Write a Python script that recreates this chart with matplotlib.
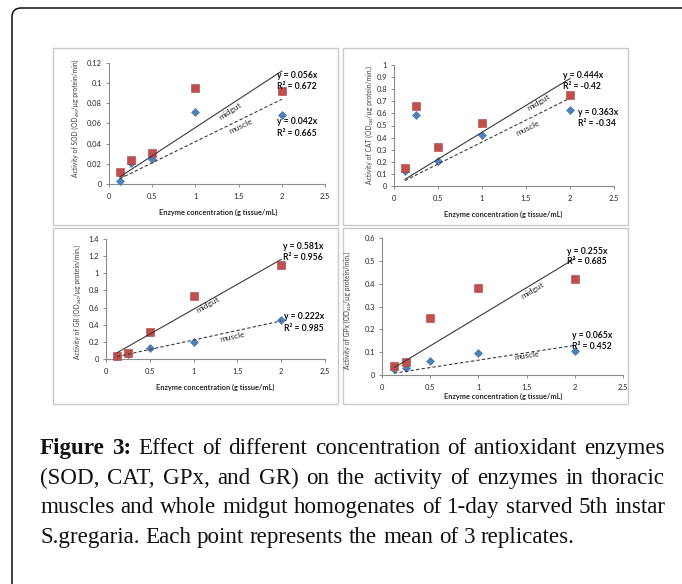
#!/usr/bin/env python3
# -*- coding: utf-8 -*-
"""Four Excel-style enzyme activity panels with linear trend lines and a caption."""

import matplotlib

matplotlib.use("Agg")
import matplotlib.pyplot as plt
import matplotlib.transforms as mtransforms
import numpy as np
from matplotlib.patches import FancyBboxPatch, Rectangle

W, H = 682, 584
DPI = 100

plt.rcParams.update(
    {
        "font.family": ["Lato", "DejaVu Sans"],
        "axes.linewidth": 0.8,
    }
)

RED = "#C0504D"
BLUE = "#4F81BD"
AXIS_GRAY = "#8C8C8C"
BOX_GRAY = "#C9C9C9"
LINE = "#3A3A3A"
TEXT = "#262626"

# enzyme concentration (g tissue/mL)
conc = [0.125, 0.25, 0.5, 1.0, 2.0]

sod_midgut = [0.012, 0.024, 0.031, 0.095, 0.092]
sod_muscle = [0.003, 0.021, 0.025, 0.071, 0.068]
cat_midgut = [0.15, 0.66, 0.32, 0.52, 0.755]
cat_muscle = [0.12, 0.59, 0.205, 0.42, 0.625]
gr_midgut = [0.03, 0.07, 0.31, 0.735, 1.10]
gr_muscle = [0.04, 0.06, 0.13, 0.195, 0.45]
gpx_midgut = [0.04, 0.055, 0.25, 0.383, 0.42]
gpx_muscle = [0.025, 0.03, 0.06, 0.095, 0.105]

# trend line slopes (y = a x) and R^2 labels
slopes_midgut = {"SOD": 0.056, "CAT": 0.444, "GR": 0.581, "GPx": 0.255}
slopes_muscle = {"SOD": 0.042, "CAT": 0.363, "GR": 0.222, "GPx": 0.065}
r2_midgut = {"SOD": "0.672", "CAT": "-0.42", "GR": "0.956", "GPx": "0.685"}
r2_muscle = {"SOD": "0.665", "CAT": "-0.34", "GR": "0.985", "GPx": "0.452"}

ylabels = {
    "SOD": "Activity of SOD (OD₄₉₀/µg protein/min)",
    "CAT": "Activity of CAT (OD₂₄₀/µg protein/min.)",
    "GR": "Activity of GR (OD₃₄₀/µg protein/min.)",
    "GPx": "Activity of GPx (OD₄₂₀/µg protein/min.)",
}
yticks = {
    "SOD": [0, 0.02, 0.04, 0.06, 0.08, 0.1, 0.12],
    "CAT": [0, 0.1, 0.2, 0.3, 0.4, 0.5, 0.6, 0.7, 0.8, 0.9, 1],
    "GR": [0, 0.2, 0.4, 0.6, 0.8, 1, 1.2, 1.4],
    "GPx": [0, 0.1, 0.2, 0.3, 0.4, 0.5, 0.6],
}
xticks = [0, 0.5, 1, 1.5, 2, 2.5]
XLABEL = "Enzyme concentration (g tissue/mL)"

CAPTION = [
    [("Figure", True), ("3:", True)]
    + [(w, False) for w in "Effect of different concentration of antioxidant enzymes".split()],
    [(w, False) for w in "(SOD, CAT, GPx, and GR) on the activity of enzymes in thoracic".split()],
    [(w, False) for w in "muscles and whole midgut homogenates of 1-day starved 5th instar".split()],
    [(w, False) for w in "S.gregaria. Each point represents the mean of 3 replicates.".split()],
]


def px_rect(left, top, right, bottom):
    return [left / W, 1 - bottom / H, (right - left) / W, (bottom - top) / H]


# panel layout in pixels: box, axes, label positions
PANELS = {
    "SOD": dict(box=(53, 48, 338, 225), ax=(109, 63, 325, 184), ylab=(75, 118), xlab=(218, 212),
                mid_txt=(1.40, 0.072), mus_txt=(1.52, 0.057),
                mid_eq=(1.95, 0.108), mus_eq=(1.94, 0.0615), eq_gap=0.0115),
    "CAT": dict(box=(343, 48, 628, 225), ax=(394, 65, 614, 186), ylab=(369, 125), xlab=(503, 214),
                mid_txt=(1.64, 0.69), mus_txt=(1.52, 0.475),
                mid_eq=(1.92, 0.917), mus_eq=(2.09, 0.61), eq_gap=0.096),
    "GR": dict(box=(53, 228, 338, 404), ax=(106, 239, 325, 359), ylab=(77, 302), xlab=(215, 387),
               mid_txt=(1.16, 0.63), mus_txt=(1.44, 0.26),
               mid_eq=(2.02, 1.318), mus_eq=(2.03, 0.49), eq_gap=0.13),
    "GPx": dict(box=(343, 228, 628, 404), ax=(382, 238, 623, 375), ylab=(347, 310), xlab=(503, 396),
                mid_txt=(1.56, 0.372), mus_txt=(1.50, 0.083),
                mid_eq=(1.92, 0.543), mus_eq=(1.97, 0.171), eq_gap=0.045),
}

DATA = {
    "SOD": (sod_midgut, sod_muscle),
    "CAT": (cat_midgut, cat_muscle),
    "GR": (gr_midgut, gr_muscle),
    "GPx": (gpx_midgut, gpx_muscle),
}


def fmt_tick(v):
    return f"{v:g}"


def draw_panel(fig, key):
    cfg = PANELS[key]
    midgut, muscle = DATA[key]
    bx = px_rect(*cfg["box"])
    fig.patches.append(
        Rectangle((bx[0], bx[1]), bx[2], bx[3], transform=fig.transFigure,
                  facecolor="none", edgecolor=BOX_GRAY, lw=1.0, zorder=-1)
    )
    ax = fig.add_axes(px_rect(*cfg["ax"]))
    ax.set_facecolor("none")
    for side in ("top", "right"):
        ax.spines[side].set_visible(False)
    for side in ("left", "bottom"):
        ax.spines[side].set_color(AXIS_GRAY)
        ax.spines[side].set_linewidth(0.8)

    ax.plot(conc, muscle, ls="none", marker="D", ms=4.3, color=BLUE,
            mec="#3F6FA8", mew=0.4, clip_on=False, zorder=3)
    ax.plot(conc, midgut, ls="none", marker="s", ms=5.8, color=RED,
            mec="#A9403D", mew=0.4, clip_on=False, zorder=4)

    xs = np.array([min(conc), max(conc)])
    ax.plot(xs, slopes_midgut[key] * xs, color=LINE, lw=0.8, zorder=5)
    ax.plot(xs, slopes_muscle[key] * xs, color=LINE, lw=0.8, ls=(0, (3, 2)), zorder=5)

    for slope, (tx, ty), name in (
        (slopes_midgut[key], cfg["mid_txt"], "midgut"),
        (slopes_muscle[key], cfg["mus_txt"], "muscle"),
    ):
        ang = np.degrees(np.arctan(slope))
        ax.text(tx, ty, name, fontsize=6.0, color=TEXT, rotation=ang,
                rotation_mode="anchor", transform_rotates_text=True,
                ha="center", va="center", zorder=6)

    gap = cfg["eq_gap"]
    for slope, r2, (ex, ey) in (
        (slopes_midgut[key], r2_midgut[key], cfg["mid_eq"]),
        (slopes_muscle[key], r2_muscle[key], cfg["mus_eq"]),
    ):
        ax.text(ex, ey, f"y = {slope:g}x", fontsize=6.2, fontweight="bold",
                color="#111111", ha="left", va="center", zorder=7)
        ax.text(ex, ey - gap, f"R² = {r2}", fontsize=6.2, fontweight="bold",
                color="#111111", ha="left", va="center", zorder=7)

    ax.set_xlim(0, 2.5)
    ax.set_ylim(0, max(yticks[key]))
    ax.set_xticks(xticks)
    ax.set_xticklabels([fmt_tick(v) for v in xticks])
    ax.set_yticks(yticks[key])
    ax.set_yticklabels([fmt_tick(v) for v in yticks[key]])
    ax.tick_params(axis="both", labelsize=5.4, length=2.5, width=0.7,
                   colors=AXIS_GRAY, labelcolor=TEXT, pad=2.5)
    ax.tick_params(axis="x", pad=4)

    lx, ly = cfg["ylab"]
    fig.text(lx / W, 1 - ly / H, ylabels[key], rotation=90, fontsize=4.9,
             color="#404040", ha="center", va="center")
    xx, xy = cfg["xlab"]
    fig.text(xx / W, 1 - xy / H, XLABEL, fontsize=5.3, fontweight="bold",
             color=TEXT, ha="center", va="center")


def draw_caption(fig):
    renderer = fig.canvas.get_renderer()
    x0, x1 = 40.0, 665.0
    baselines = [454, 484, 513, 543]
    size = 16.6
    family = ["Liberation Serif", "DejaVu Serif"]
    probe = fig.text(0, 0, "a b", fontsize=size, family=family)
    probe2 = fig.text(0, 0, "ab", fontsize=size, family=family)
    space = (probe.get_window_extent(renderer).width
             - probe2.get_window_extent(renderer).width)
    probe.remove()
    probe2.remove()
    for li, (words, yb) in enumerate(zip(CAPTION, baselines)):
        texts = []
        for w, bold in words:
            t = fig.text(0, 1 - yb / H, w, fontsize=size, family=family,
                         fontweight="bold" if bold else "normal",
                         color="#111111", ha="left", va="baseline")
            texts.append(t)
        widths = [t.get_window_extent(renderer).width for t in texts]
        if li < len(CAPTION) - 1:
            gap = (x1 - x0 - sum(widths)) / (len(widths) - 1)
        else:
            gap = space
        x = x0
        for t, w in zip(texts, widths):
            t.set_x(x / W)
            x += w + gap


def main():
    fig = plt.figure(figsize=(W / DPI, H / DPI), dpi=DPI, facecolor="white")

    frame = FancyBboxPatch((12, -30), 720, H - 8 + 30,
                           boxstyle="round,pad=0,rounding_size=9",
                           transform=mtransforms.IdentityTransform(),
                           facecolor="none", edgecolor="#111111", lw=1.1)
    fig.patches.append(frame)

    for key in ("SOD", "CAT", "GR", "GPx"):
        draw_panel(fig, key)

    fig.canvas.draw()
    draw_caption(fig)
    fig.savefig("out.png", dpi=DPI, facecolor="white")
    plt.close(fig)


if __name__ == "__main__":
    main()
